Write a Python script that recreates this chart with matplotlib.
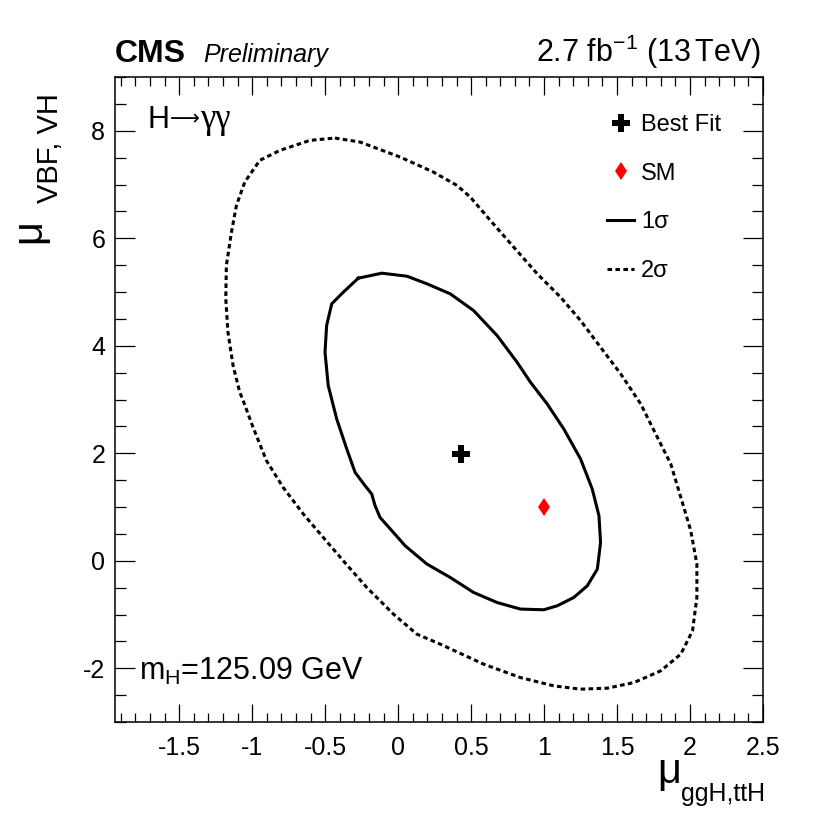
import matplotlib
matplotlib.use("Agg")
import matplotlib.pyplot as plt
from matplotlib.lines import Line2D
from matplotlib.ticker import MultipleLocator

plt.rcParams['font.family'] = ['Liberation Sans', 'DejaVu Sans']
plt.rcParams['mathtext.fontset'] = 'custom'
plt.rcParams['mathtext.rm'] = 'Liberation Sans'
plt.rcParams['mathtext.it'] = 'Liberation Sans:italic'
plt.rcParams['mathtext.bf'] = 'Liberation Sans:bold'

# ---- data ----
sigma1_x = [-0.273, -0.112, 0.060, 0.197, 0.357, 0.517, 0.678, 0.815, 0.907, 1.021,
            1.135, 1.250, 1.330, 1.376, 1.387, 1.365, 1.296, 1.204, 1.090, 0.998,
            0.838, 0.678, 0.517, 0.357, 0.197, 0.048, -0.043, -0.124, -0.158, -0.181,
            -0.227, -0.295, -0.352, -0.421, -0.479, -0.501, -0.490, -0.455, -0.376, -0.273]
sigma1_y = [5.257, 5.350, 5.294, 5.153, 4.966, 4.655, 4.190, 3.693, 3.320, 2.918,
            2.452, 1.894, 1.335, 0.838, 0.341, -0.155, -0.466, -0.683, -0.838, -0.912,
            -0.899, -0.777, -0.590, -0.311, -0.061, 0.279, 0.559, 0.806, 1.024, 1.242,
            1.397, 1.644, 2.080, 2.639, 3.259, 3.879, 4.376, 4.780, 4.996, 5.257]

sigma2_x = [-0.433, -0.261, 0.014, 0.242, 0.403, 0.495, 0.632, 0.792, 0.953, 1.113,
            1.250, 1.387, 1.525, 1.662, 1.799, 1.868, 1.937, 2.005, 2.047, 2.047,
            2.017, 1.937, 1.799, 1.616, 1.433, 1.250, 1.067, 0.838, 0.586, 0.288,
            0.128, -0.032, -0.215, -0.376, -0.513, -0.650, -0.788, -0.902, -0.994, -1.062,
            -1.085, -1.131, -1.166, -1.181, -1.177, -1.142, -1.108, -1.051, -0.948, -0.810,
            -0.604, -0.433]
sigma2_y = [7.864, 7.790, 7.510, 7.231, 6.983, 6.765, 6.331, 5.834, 5.339, 4.903,
            4.469, 3.972, 3.477, 2.918, 2.173, 1.801, 1.179, 0.559, -0.061, -0.683,
            -1.304, -1.737, -2.048, -2.266, -2.371, -2.389, -2.328, -2.173, -1.924, -1.551,
            -1.365, -0.993, -0.497, 0.000, 0.434, 0.870, 1.365, 1.862, 2.482, 2.980,
            3.134, 3.631, 4.251, 4.873, 5.493, 6.114, 6.611, 7.045, 7.449, 7.635,
            7.821, 7.864]

best_fit = (0.43, 1.98)
sm_point = (1.0, 1.0)

x_ticks = [-1.5, -1, -0.5, 0, 0.5, 1, 1.5, 2, 2.5]
x_tick_labels = ['-1.5', '-1', '-0.5', '0', '0.5', '1', '1.5', '2', '2.5']
y_ticks = [-2, 0, 2, 4, 6, 8]
y_tick_labels = ['-2', '0', '2', '4', '6', '8']

legend_labels = ['Best Fit', 'SM', '1\u03c3', '2\u03c3']

# ---- figure ----
W, H = 835, 817
fig = plt.figure(figsize=(W / 100, H / 100), dpi=100)
L, R, T, B = 115, 763, 77, 722
ax = fig.add_axes([L / W, 1 - B / H, (R - L) / W, (B - T) / H])

ax.set_xlim(-1.94, 2.5)
ax.set_ylim(-3, 9)

lw = 2.2
dot_style = (0, (1.5, 1.1))
ax.plot(sigma2_x, sigma2_y, color='black', lw=lw, linestyle=dot_style)
ax.plot(sigma1_x, sigma1_y, color='black', lw=lw, linestyle='-')
ax.plot([best_fit[0]], [best_fit[1]], marker='P', color='black', markersize=12.5,
        markeredgewidth=0, linestyle='none')
ax.plot([sm_point[0]], [sm_point[1]], marker='d', color='red', markersize=9.5,
        markeredgewidth=0, linestyle='none')

ax.set_xticks(x_ticks)
ax.set_xticklabels(x_tick_labels)
ax.set_yticks(y_ticks)
ax.set_yticklabels(y_tick_labels)
ax.xaxis.set_minor_locator(MultipleLocator(0.1))
ax.yaxis.set_minor_locator(MultipleLocator(0.5))

ax.tick_params(axis='both', which='both', direction='in', top=True, right=True,
               width=0.9, labelsize=18, colors='black')
ax.tick_params(axis='x', which='major', length=13, pad=10)
ax.tick_params(axis='x', which='minor', length=6.5)
ax.tick_params(axis='y', which='major', length=14.5, pad=7)
ax.tick_params(axis='y', which='minor', length=8)
for sp in ax.spines.values():
    sp.set_linewidth(1.1)

# axis titles (ROOT style: big mu, low subscript)
fig.text(681 / W, 1 - 783 / H, '\u03bc', fontsize=30, ha='right', va='baseline')
fig.text(765 / W, 1 - 801 / H, 'ggH,ttH', fontsize=18, ha='right', va='baseline')
fig.text(40 / W, 1 - 243 / H, '\u03bc', fontsize=30, rotation=90,
         rotation_mode='anchor', ha='left', va='baseline')
fig.text(58 / W, 1 - 203 / H, 'VBF, VH', fontsize=21, rotation=90,
         rotation_mode='anchor', ha='left', va='baseline')

# header texts
fig.text(115 / W, 1 - 62 / H, 'CMS', fontsize=23, fontweight='bold',
         ha='left', va='baseline')
fig.text(203 / W, 1 - 62 / H, 'Preliminary', fontsize=18, fontstyle='italic',
         ha='left', va='baseline')
fig.text(761 / W, 1 - 62 / H, r'$\mathrm{2.7\ fb^{-1}\ (13\,TeV)}$', fontsize=22,
         ha='right', va='baseline')

# in-plot texts
fig.text(148 / W, 1 - 128 / H, 'H', fontsize=22, ha='left', va='baseline')
fig.text(170 / W, 1 - 125 / H, '\u27f6', fontsize=15, ha='left', va='baseline',
         family='DejaVu Sans')
fig.text(200 / W, 1 - 128 / H, '\u03b3\u03b3', fontsize=25, ha='left', va='baseline',
         family='Liberation Serif')
fig.text(139 / W, 1 - 680 / H, 'm$_{\\rm H}$=125.09 GeV', fontsize=22,
         ha='left', va='baseline')

# legend
handles = [
    Line2D([], [], marker='P', color='black', markersize=12.5, markeredgewidth=0, linestyle='none'),
    Line2D([], [], marker='d', color='red', markersize=9.5, markeredgewidth=0, linestyle='none'),
    Line2D([], [], color='black', lw=lw, linestyle='-'),
    Line2D([], [], color='black', lw=lw, linestyle=dot_style),
]
ax.legend(handles, legend_labels, loc='upper left', frameon=False,
          bbox_to_anchor=(607 / W, 1 - 114 / H), bbox_transform=fig.transFigure,
          fontsize=17, handlelength=1.15, handletextpad=0.3, labelspacing=1.13,
          borderpad=0, borderaxespad=0)

fig.savefig('out.png', dpi=100)
